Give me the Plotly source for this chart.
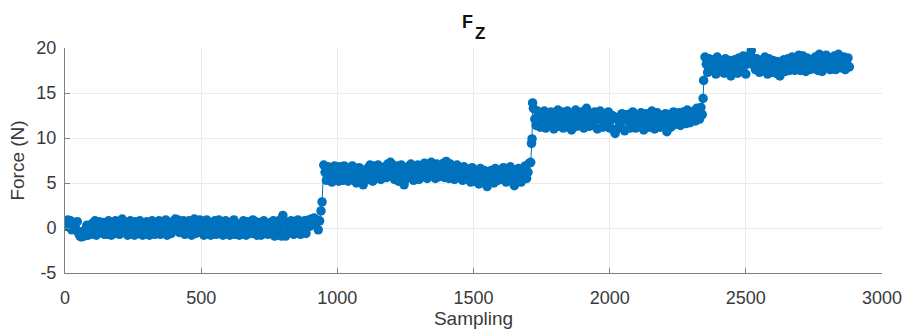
import plotly.graph_objects as go

# Force readings, one value every 5 samples on each plateau
seg0_start, seg0 = 0, [
    0.8, 0.2, 0.9, 0.1, 0.8, -0.2, 0.6, 0.4, -0.1, 0.7,
    -0.6, -0.9, -1.0, -0.4, -0.9, -0.2, 0.3, -0.8, 0.0, -0.7,
    0.5, -0.1, 0.8, -0.8, 0.1, 0.7, -0.5, 0.0, 0.6, -0.7,
    0.1, -0.7, 0.8, 0.0, -0.8, 0.5, -0.1, 0.8, -0.6, 0.2,
    -0.7, 0.1, 1.0, 0.3, -0.3, 0.6, -0.8, 0.0, 0.8, -0.4,
    0.2, -0.8, 0.7, 0.0, -0.6, 0.8, 0.1, -0.8, 0.5, -0.1,
    0.7, -0.2, -0.8, 0.3, 0.8, -0.1, -0.7, 0.5, 0.0, 0.8,
    -0.7, 0.1, 0.6, -0.2, 0.9, -0.8, 0.0, 0.5, -0.6, 0.2,
    0.8, 1.0, 0.2, 0.9, -0.5, 0.3, -0.2, 0.8, -0.7, 0.1,
    -0.3, 0.8, 0.0, -0.8, 0.4, 1.0, -0.6, 0.2, -0.1, 0.9,
    -0.5, 0.0, -0.8, 0.2, 0.9, -0.2, 0.4, -0.8, 0.1, 0.6,
    0.8, -0.7, 0.0, 0.9, -0.4, 0.2, -0.8, 0.1, 0.8, -0.5,
    0.1, -0.8, 0.6, -0.1, 0.9, -0.7, 0.2, 0.4, -0.8, 0.0,
    -0.5, 0.8, -0.1, -0.8, 0.7, 0.2, 0.4, -0.6, 0.9, -0.2,
    0.7, -0.8, 0.0, 0.6, -0.8, 0.1, 0.8, -0.5, 0.2, -0.7,
    0.0, 0.6, -0.3, 0.8, -0.9, 0.1, -0.7, 0.8, -0.1, -0.9,
    1.4, 0.8, -0.9, -0.4, 0.2, -0.5, 0.8, 0.1, -0.7, 0.7,
    -0.4, 0.9, 0.1, -0.7, 0.6, -0.2, 0.8, -0.6, 0.3, 0.9,
    0.2, 1.0, 0.5, 1.1, 0.4, 0.9, -0.2, 0.8]
step1_x, step1_y = [940, 944], [1.9, 2.9]

seg1_start, seg1 = 950, [
    7.0, 6.2, 5.3, 6.8, 6.0, 6.7, 5.1, 6.1, 6.9, 5.4,
    6.0, 5.2, 6.8, 6.1, 5.3, 6.9, 5.9, 6.6, 5.2, 6.2,
    5.5, 6.9, 6.0, 6.4, 5.0, 6.1, 6.7, 5.4, 6.0, 4.8,
    5.3, 6.1, 6.6, 5.4, 7.0, 6.0, 5.2, 6.9, 6.2, 5.5,
    7.0, 6.1, 5.4, 6.6, 6.0, 6.8, 5.6, 7.1, 6.2, 7.3,
    7.1, 6.3, 5.4, 6.0, 6.9, 5.2, 6.2, 7.0, 5.9, 4.8,
    5.4, 6.3, 6.8, 5.6, 7.1, 6.2, 5.3, 6.6, 6.0, 7.0,
    5.4, 6.2, 6.9, 5.7, 7.2, 6.3, 5.5, 7.0, 6.1, 7.3,
    6.8, 6.2, 5.5, 7.1, 6.3, 5.7, 6.9, 6.1, 7.2, 5.6,
    7.4, 6.3, 5.5, 7.1, 6.2, 6.8, 5.4, 6.3, 7.0, 5.8,
    6.6, 5.9, 5.3, 6.8, 6.0, 5.5, 6.5, 5.9, 5.1, 6.7,
    5.8, 5.2, 6.3, 5.7, 4.9, 6.6, 5.9, 5.3, 6.4, 5.8,
    4.6, 5.7, 5.2, 6.4, 5.8, 5.0, 6.6, 5.8, 5.3, 6.3,
    5.8, 5.4, 6.7, 5.9, 5.1, 6.4, 5.8, 6.8, 5.2, 6.0,
    4.7, 5.8, 5.3, 6.6, 5.9, 5.1, 6.4, 6.0, 6.9, 5.5,
    6.2, 7.2, 7.3]
step2_x, step2_y = [1713, 1715, 1717], [9.4, 9.9, 13.9]

seg2_start, seg2 = 1720, [
    13.3, 12.1, 11.4, 13.0, 12.0, 11.2, 12.8, 12.1, 13.0, 11.1,
    12.0, 12.6, 11.4, 12.9, 12.2, 11.0, 12.7, 12.0, 13.1, 11.3,
    12.1, 12.9, 11.1, 12.4, 11.9, 13.0, 11.3, 12.2, 10.9, 12.6,
    12.0, 13.1, 11.3, 12.3, 11.5, 12.9, 12.0, 11.1, 12.8, 13.3,
    12.1, 11.3, 12.7, 11.9, 11.4, 12.9, 12.1, 11.0, 12.4, 13.0,
    12.0, 11.2, 12.6, 11.5, 12.1, 12.9, 11.1, 12.0, 12.5, 10.9,
    10.5, 11.0, 12.3, 11.8, 11.2, 12.7, 12.0, 10.8, 12.1, 12.6,
    11.9, 11.1, 12.3, 12.9, 11.8, 11.1, 12.4, 12.0, 11.3, 12.8,
    12.0, 10.9, 12.2, 12.7, 11.9, 11.2, 12.5, 13.0, 11.8, 11.0,
    12.3, 12.8, 11.9, 11.2, 12.5, 12.0, 11.4, 12.7, 10.7, 12.1,
    12.6, 11.2, 12.1, 12.9, 11.5, 12.3, 11.9, 12.8, 11.4, 12.2,
    12.9, 12.2, 11.6, 13.1, 12.3, 11.7, 12.8, 12.3, 13.0, 11.9,
    13.3, 12.4, 12.1, 13.4, 12.6]
step3_x, step3_y = [2343, 2345], [14.4, 16.4]

seg3_start, seg3 = 2350, [
    19.0, 18.2, 17.3, 18.8, 18.1, 17.6, 18.7, 18.3, 17.1, 19.0,
    18.3, 17.4, 18.5, 18.0, 17.2, 18.8, 18.2, 17.5, 18.6, 16.9,
    18.1, 17.5, 18.7, 18.2, 17.2, 18.9, 18.0, 17.4, 19.1, 18.3,
    17.1, 18.2, 18.7, 19.2, 19.7, 18.9, 18.1, 17.6, 18.8, 18.2,
    17.3, 18.5, 18.1, 17.5, 19.0, 18.2, 17.1, 18.8, 18.0, 17.3,
    18.6, 18.0, 17.2, 18.5, 17.9, 16.9, 18.3, 17.7, 18.7, 17.4,
    18.2, 18.8, 17.5, 18.3, 19.0, 18.1, 17.5, 18.7, 18.2, 19.2,
    17.5, 18.3, 19.1, 18.0, 17.4, 18.9, 18.2, 17.6, 18.6, 18.1,
    17.7, 19.0, 18.3, 17.5, 19.3, 18.2, 17.4, 18.8, 18.1, 19.2,
    17.9, 18.4, 17.6, 18.9, 18.2, 19.1, 17.6, 18.3, 19.3, 18.0,
    17.8, 18.4, 19.0, 17.6, 18.3, 18.9, 17.9]

x_ticks = [0, 500, 1000, 1500, 2000, 2500, 3000]
y_ticks = [-5, 0, 5, 10, 15, 20]
y_tick_text = ["-5", "0", "5", "10", "15", "20"]

STEP = 5


def seg_x(start, vals):
    return list(range(start, start + STEP * len(vals), STEP))


x = (seg_x(seg0_start, seg0) + step1_x + seg_x(seg1_start, seg1) + step2_x
     + seg_x(seg2_start, seg2) + step3_x + seg_x(seg3_start, seg3))
y = seg0 + step1_y + seg1 + step2_y + seg2 + step3_y + seg3

BLUE = "#0072BD"
FONT = "Liberation Sans, Arial, sans-serif"
TICK_GREY = "#808080"
LABEL = "#3a3a3a"

fig = go.Figure(go.Scatter(
    x=x, y=y, mode="lines+markers",
    line=dict(color=BLUE, width=1),
    marker=dict(color=BLUE, size=9.5, line=dict(width=0)),
    showlegend=False,
))

axis_common = dict(
    showgrid=True, gridcolor="#ebebeb", gridwidth=1,
    zeroline=False, showline=True, linecolor=TICK_GREY, linewidth=1,
    ticks="inside", ticklen=5, tickcolor=TICK_GREY,
    tickfont=dict(family=FONT, size=18, color=LABEL),
    mirror=False,
)

fig.update_layout(
    width=914, height=335,
    margin=dict(l=65, r=23, t=48, b=54),
    paper_bgcolor="white", plot_bgcolor="white",
    font=dict(family=FONT, color="#262626"),
    xaxis=dict(range=[0, 3000], tickvals=x_ticks, ticklabelstandoff=8,
               title=dict(text="Sampling", standoff=2,
                          font=dict(family=FONT, size=19, color=LABEL)),
               **axis_common),
    yaxis=dict(range=[-5, 20], tickvals=y_ticks, ticktext=y_tick_text,
               ticklabelstandoff=4,
               title=dict(text="Force (N)", standoff=6,
                          font=dict(family=FONT, size=19, color=LABEL)),
               **axis_common),
)

# Title F with a near full-size subscript Z
fig.add_annotation(text="<b>F</b>", xref="paper", yref="paper",
                   x=0.4927, y=1.1137, xanchor="center", yanchor="middle",
                   showarrow=False,
                   font=dict(family=FONT, size=18, color="#111111"))
fig.add_annotation(text="<b>Z</b>", xref="paper", yref="paper",
                   x=0.5085, y=1.0644, xanchor="center", yanchor="middle",
                   showarrow=False,
                   font=dict(family=FONT, size=17, color="#111111"))

fig.write_html("out.html")
